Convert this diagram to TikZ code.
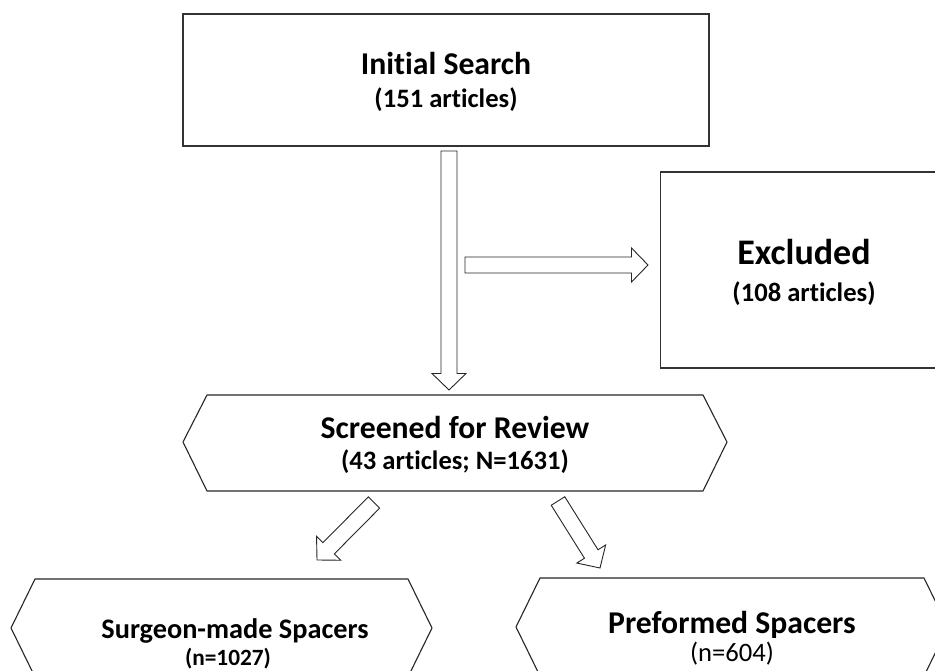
\documentclass[tikz,border=0pt]{standalone}
\usepackage{fontspec}
\setmainfont[Ligatures={NoCommon}]{Carlito}
\usetikzlibrary{calc}
\tikzset{
  outline/.style={draw=black!85, line width=1.1pt, line join=miter},
  box/.style={draw=black!80, line width=1.6pt, rectangle, inner sep=0pt, outer sep=0pt},
  blockarr/.style={draw=black!85, line width=0.9pt, fill=white, line join=miter},
  ttl/.style={anchor=base, inner sep=0pt, font=\fontsize{31.7}{38}\selectfont\bfseries},
  bigttl/.style={anchor=base, inner sep=0pt, font=\fontsize{36}{43}\selectfont\bfseries},
  sub/.style={anchor=base, inner sep=0pt, font=\fontsize{26.6}{32}\selectfont\bfseries},
  subreg/.style={anchor=base, inner sep=0pt, font=\fontsize{26.6}{32}\selectfont},
  sttl/.style={anchor=base, inner sep=0pt, font=\fontsize{28.3}{34}\selectfont\bfseries},
  ssub/.style={anchor=base, inner sep=0pt, font=\fontsize{23.3}{28}\selectfont\bfseries},
}
\newcommand\blockarrow[2]{%
  \coordinate (ba-h) at ($(#2)!16.5pt!(#1)$);
  \draw[blockarr] ($(#1)!8pt!90:(#2)$) -- ($(ba-h)!8pt!-90:(#1)$) -- ($(ba-h)!17pt!-90:(#1)$)
    -- (#2) -- ($(ba-h)!17pt!90:(#1)$) -- ($(ba-h)!8pt!90:(#1)$) -- ($(#1)!8pt!-90:(#2)$) -- cycle;}
\begin{document}
\begin{tikzpicture}[x=1pt,y=1pt]
\useasboundingbox (0,0) rectangle (935,670);
\fill[white] (0,0) rectangle (935,670);
\clip (0,0) rectangle (935,670);

% boxes
\node[box, minimum width=526pt, minimum height=132pt] (isearch) at (446,590) {};
\node[box, line width=1.3pt, minimum width=287.3pt, minimum height=196pt] (excl) at (804.3,400) {};

% hexagons
\draw[outline] (183,228) -- (207,275) -- (703,275) -- (727,228) -- (703,179) -- (207,179) -- cycle;
\coordinate (screen) at (455,227);
\draw[outline] (11,42) -- (35,91) -- (408,91) -- (432,42) -- (408,-7) -- (35,-7) -- cycle;
\coordinate (surg) at (221.5,42);
\draw[outline] (516,43) -- (540,92) -- (924,92) -- (948,43) -- (924,-6) -- (540,-6) -- cycle;
\coordinate (pref) at (732,43);

% texts
\node[ttl] (t1) at (446,595) {Initial Search};
\node[sub] (t1s) at (446,562) {(151 articles)};
\node[bigttl] (t2) at (804,405) {Excluded};
\node[sub] (t2s) at (804,368.3) {(108 articles)};
\node[ttl] (t3) at (455,231.7) {Screened for Review};
\node[sub] (t3s) at (455,200) {(43 articles; N=1631)};
\node[sttl] (t4) at (235,32) {Surgeon-made Spacers};
\node[ssub] (t4s) at (228,5) {(n=1027)};
\node[ttl] (t5) at (732,37) {Preformed Spacers};
\node[subreg] (t5s) at (732,8.3) {(n=604)};

% arrows
\coordinate (av0) at (449,519);
\coordinate (av1) at (449,280);
\coordinate (ah0) at (465,405);
\coordinate (ah1) at (648,405);
\coordinate (al0) at (374,167.5);
\coordinate (al1) at (317,110);
\coordinate (ar0) at (558,169);
\coordinate (ar1) at (600,102);
\blockarrow{av0}{av1}
\blockarrow{ah0}{ah1}
\blockarrow{al0}{al1}
\blockarrow{ar0}{ar1}
\end{tikzpicture}
\end{document}
